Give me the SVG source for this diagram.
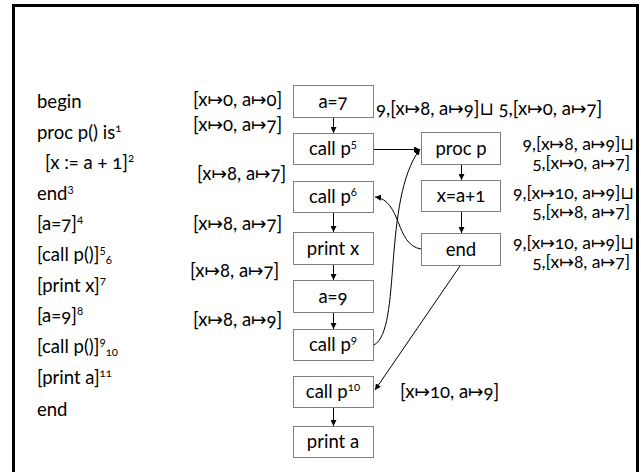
<svg xmlns="http://www.w3.org/2000/svg" width="641" height="472" viewBox="0 0 641 472">
<defs>
<marker id="ah" viewBox="0 0 10 10" refX="10" refY="5" markerWidth="6" markerHeight="6" orient="auto" markerUnits="userSpaceOnUse">
<path d="M0,0 L10,5 L0,10 z" fill="#000"/>
</marker>
<style>
text{font-family:"Lato","Open Sans","DejaVu Sans",sans-serif;font-size:18.5px;fill:#000;font-variant-numeric:oldstyle-nums}
.c{text-anchor:middle}
.e{text-anchor:end}
.r{text-anchor:end;font-size:17.5px}
.box{fill:#fff;stroke:#808080;stroke-width:1}
.ln{fill:none;stroke:#000;stroke-width:1}
.sup{font-size:11.5px}
</style>
</defs>
<rect x="13.5" y="5.5" width="624" height="480" fill="#fff" stroke="#000" stroke-width="3"/>

<g id="program">
<text x="37" y="108">begin</text>
<text x="37" y="139">proc p() is<tspan class="sup" dy="-7">1</tspan></text>
<text x="45" y="169">[x := a + 1]<tspan class="sup" dy="-7">2</tspan></text>
<text x="37" y="200">end<tspan class="sup" dy="-7">3</tspan></text>
<text x="37" y="230">[a=7]<tspan class="sup" dy="-7">4</tspan></text>
<text x="37" y="261">[call p()]<tspan class="sup" dy="-7">5</tspan><tspan class="sup" dy="10">6</tspan></text>
<text x="37" y="292">[print x]<tspan class="sup" dy="-7">7</tspan></text>
<text x="37" y="322">[a=9]<tspan class="sup" dy="-7">8</tspan></text>
<text x="37" y="353">[call p()]<tspan class="sup" dy="-7">9</tspan><tspan class="sup" dy="10">10</tspan></text>
<text x="37" y="384">[print a]<tspan class="sup" dy="-7">11</tspan></text>
<text x="37" y="416">end</text>
</g>

<g id="labels">
<text x="193" y="106">[x↦0, a↦0]</text>
<text x="193" y="131">[x↦0, a↦7]</text>
<text x="197" y="180">[x↦8, a↦7]</text>
<text x="193" y="230">[x↦8, a↦7]</text>
<text x="190" y="277">[x↦8, a↦7]</text>
<text x="193" y="326">[x↦8, a↦9]</text>
<text x="376" y="115">9,[x↦8, a↦9]⊔ 5,[x↦0, a↦7]</text>
<text class="r" x="634" y="150">9,[x↦8, a↦9]⊔</text>
<text class="r" x="630" y="169">5,[x↦0, a↦7]</text>
<text class="r" x="634" y="199">9,[x↦10, a↦9]⊔</text>
<text class="r" x="630" y="218">5,[x↦8, a↦7]</text>
<text class="r" x="634" y="249">9,[x↦10, a↦9]⊔</text>
<text class="r" x="630" y="268">5,[x↦8, a↦7]</text>
<text x="400" y="398">[x↦10, a↦9]</text>
</g>

<g id="n_a7"><rect class="box" x="293.5" y="85.5" width="80" height="32"/><text class="c" x="333" y="108">a=7</text></g>
<g id="n_callp5"><rect class="box" x="293.5" y="133.5" width="80" height="31"/><text class="c" x="333" y="155">call p<tspan class="sup" dy="-7">5</tspan></text></g>
<g id="n_callp6"><rect class="box" x="293.5" y="181.5" width="80" height="31"/><text class="c" x="333" y="203">call p<tspan class="sup" dy="-7">6</tspan></text></g>
<g id="n_printx"><rect class="box" x="293.5" y="232.5" width="80" height="32"/><text class="c" x="333" y="255">print x</text></g>
<g id="n_a9"><rect class="box" x="293.5" y="280.5" width="80" height="32"/><text class="c" x="333" y="303">a=9</text></g>
<g id="n_callp9"><rect class="box" x="293.5" y="329.5" width="80" height="31"/><text class="c" x="333" y="351">call p<tspan class="sup" dy="-7">9</tspan></text></g>
<g id="n_callp10"><rect class="box" x="293.5" y="376.5" width="80" height="31"/><text class="c" x="333" y="398">call p<tspan class="sup" dy="-7">10</tspan></text></g>
<g id="n_printa"><rect class="box" x="293.5" y="426.5" width="80" height="31"/><text class="c" x="333" y="448">print a</text></g>
<g id="n_procp"><rect class="box" x="421.5" y="132.5" width="79" height="32"/><text class="c" x="461" y="155">proc p</text></g>
<g id="n_xa1"><rect class="box" x="421.5" y="180.5" width="79" height="31"/><text class="c" x="461" y="202">x=a+1</text></g>
<g id="n_end"><rect class="box" x="421.5" y="233.5" width="79" height="32"/><text class="c" x="461" y="256">end</text></g>

<g id="connectors">
<line class="ln" x1="333.5" y1="118" x2="333.5" y2="133" marker-end="url(#ah)"/>
<line class="ln" x1="333.5" y1="213" x2="333.5" y2="232" marker-end="url(#ah)"/>
<line class="ln" x1="333.5" y1="265" x2="333.5" y2="280" marker-end="url(#ah)"/>
<line class="ln" x1="333.5" y1="313" x2="333.5" y2="329" marker-end="url(#ah)"/>
<line class="ln" x1="333.5" y1="408" x2="333.5" y2="426" marker-end="url(#ah)"/>
<line class="ln" x1="461.5" y1="165" x2="461.5" y2="180" marker-end="url(#ah)"/>
<line class="ln" x1="461.5" y1="212" x2="461.5" y2="233" marker-end="url(#ah)"/>
<line class="ln" x1="374" y1="149.5" x2="420" y2="149.5" marker-end="url(#ah)"/>
<path class="ln" d="M374,345 C402,330 382,200 420,149" marker-end="url(#ah)"/>
<path class="ln" d="M421,249 C395,245 402,200 375,197" marker-end="url(#ah)"/>
<line class="ln" x1="460" y1="266" x2="375" y2="390" marker-end="url(#ah)"/>
</g>
</svg>
